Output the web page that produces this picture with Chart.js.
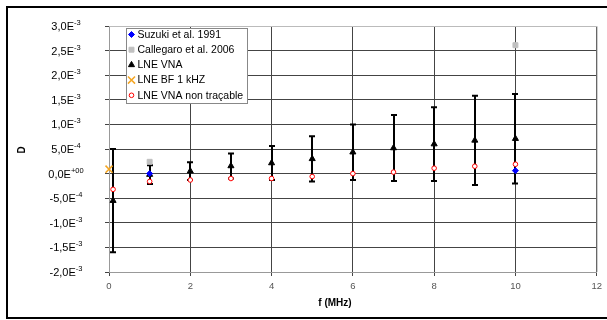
<!DOCTYPE html>
<html>
<head>
<meta charset="utf-8">
<script src="https://cdn.jsdelivr.net/npm/chart.js@4/dist/chart.umd.min.js"></script>
<style>
  body { margin: 0; background: #fff; }
</style>
</head>
<body>
<canvas id="chart" width="607" height="320"></canvas>
<script>
// frequencies (MHz) and loss factor D
const freqVNA = [0.1, 1, 2, 3, 4, 5, 6, 7, 8, 9, 10]
const dVNA = [-5.5e-4, -0.2e-4, 0.5e-4, 1.55e-4, 2.15e-4, 3.0e-4, 4.35e-4, 5.2e-4, 6.0e-4, 6.75e-4, 7.1e-4]
const errVNA = [1.05e-3, 1.9e-4, 1.8e-4, 2.55e-4, 3.45e-4, 4.6e-4, 5.65e-4, 6.7e-4, 7.5e-4, 9.05e-4, 9.1e-4]

const freqSuzuki = [1, 10]
const dSuzuki = [0, 0.6e-4]

const freqCallegaro = [1, 10]
const dCallegaro = [2.4e-4, 2.61e-3]

const freqBF = [0.001]
const dBF = [0.9e-4]

const freqNonTrac = [0.1, 1, 2, 3, 4, 5, 6, 7, 8, 9, 10]
const dNonTrac = [-3.2e-4, -1.6e-4, -1.3e-4, -1.0e-4, -1.0e-4, -0.6e-4, 0, 0.3e-4, 1.1e-4, 1.5e-4, 1.9e-4]

const xTicks = [0, 2, 4, 6, 8, 10, 12]

const pts = (xs, ys) => xs.map((x, i) => ({ x: x, y: ys[i] }))

const FONT = '"Liberation Sans", Arial, sans-serif'

function yLabel(v) {
    if (Math.abs(v) < 1e-12) return ['0,0E', '+00']
    if (Math.abs(v) >= 1e-3 - 1e-12) return [(v * 1e3).toFixed(1).replace('.', ',') + 'E', '-3']
    return [(v * 1e4).toFixed(1).replace('.', ',') + 'E', '-4']
}

const framePlugin = {
    id: 'frame',
    beforeDraw(chart) {
        const ctx = chart.ctx
        ctx.save()
        ctx.fillStyle = '#fff'
        ctx.fillRect(0, 0, chart.width, chart.height)
        ctx.strokeStyle = '#000'
        ctx.lineWidth = 2
        ctx.strokeRect(7, 7, chart.width + 10, 311)
        ctx.restore()
    },
    afterDraw(chart) {
        const ctx = chart.ctx
        const ys = chart.scales.y
        const area = chart.chartArea
        ctx.save()
        // light frame on top and right of the plot
        ctx.strokeStyle = '#bbb'
        ctx.lineWidth = 1
        ctx.beginPath()
        ctx.moveTo(area.left, area.top + 0.5)
        ctx.lineTo(area.right + 0.5, area.top + 0.5)
        ctx.lineTo(area.right + 0.5, area.bottom)
        ctx.stroke()
        // y tick labels with superscript exponents
        ctx.fillStyle = '#000'
        ctx.textBaseline = 'alphabetic'
        ys.ticks.forEach(t => {
            const [m, e] = yLabel(t.value)
            const py = ys.getPixelForValue(t.value)
            ctx.font = '11px ' + FONT
            const wm = ctx.measureText(m).width
            ctx.font = '7.5px ' + FONT
            const we = ctx.measureText(e).width
            const x0 = 66 - (wm + we) / 2
            ctx.font = '11px ' + FONT
            ctx.fillText(m, x0, py + 4)
            ctx.font = '7.5px ' + FONT
            ctx.fillText(e, x0 + wm, py - 1)
        })
        // axis titles
        ctx.font = 'bold 10px ' + FONT
        ctx.textAlign = 'center'
        ctx.fillText('f (MHz)', 335, 306)
        ctx.translate(21, 150)
        ctx.rotate(-Math.PI / 2)
        ctx.fillText('D', 0, 4)
        ctx.restore()

        // legend box inside the plot
        const items = chart.data.datasets
        ctx.save()
        ctx.fillStyle = '#fff'
        ctx.fillRect(126, 28, 121, 75)
        ctx.strokeStyle = '#888'
        ctx.lineWidth = 1
        ctx.strokeRect(126.5, 28.5, 121, 75)
        ctx.font = '10.5px ' + FONT
        ctx.textBaseline = 'middle'
        ctx.textAlign = 'left'
        items.forEach((ds, i) => {
            const y = 34.5 + i * 15.2
            const opts = {
                pointStyle: ds.pointStyle,
                radius: ds.pointRadius,
                rotation: ds.pointRotation || 0,
                borderWidth: ds.borderWidth
            }
            ctx.fillStyle = ds.backgroundColor
            ctx.strokeStyle = ds.borderColor
            ctx.lineWidth = ds.borderWidth
            Chart.helpers.drawPoint(ctx, opts, 131.5, y)
            ctx.fillStyle = '#000'
            ctx.fillText(ds.label, 137.5, y + 0.5)
        })
        ctx.restore()
    }
}

const errorBarPlugin = {
    id: 'errorBars',
    beforeDatasetsDraw(chart) {
        const ctx = chart.ctx
        const xs = chart.scales.x
        const ys = chart.scales.y
        ctx.save()
        ctx.strokeStyle = '#000'
        ctx.lineWidth = 2
        freqVNA.forEach((f, i) => {
            const px = Math.round(xs.getPixelForValue(f))
            const top = ys.getPixelForValue(dVNA[i] + errVNA[i])
            const bot = ys.getPixelForValue(dVNA[i] - errVNA[i])
            ctx.beginPath()
            ctx.moveTo(px, top)
            ctx.lineTo(px, bot)
            ctx.moveTo(px - 3, top)
            ctx.lineTo(px + 3, top)
            ctx.moveTo(px - 3, bot)
            ctx.lineTo(px + 3, bot)
            ctx.stroke()
        })
        ctx.restore()
    }
}

new Chart(document.getElementById('chart'), {
    type: 'scatter',
    data: {
        datasets: [
            {
                label: 'Suzuki et al. 1991',
                data: pts(freqSuzuki, dSuzuki),
                pointStyle: 'rectRot',
                pointRadius: 3,
                backgroundColor: '#0000ff',
                borderColor: '#0000ff',
                borderWidth: 1,
                clip: false
            },
            {
                label: 'Callegaro et al. 2006',
                data: pts(freqCallegaro, dCallegaro),
                pointStyle: 'rect',
                pointRadius: 3.5,
                backgroundColor: '#c0c0c0',
                borderColor: '#c0c0c0',
                borderWidth: 1,
                clip: false
            },
            {
                label: 'LNE VNA',
                data: pts(freqVNA, dVNA),
                pointStyle: 'triangle',
                pointRadius: 3.5,
                backgroundColor: '#000',
                borderColor: '#000',
                borderWidth: 1,
                clip: false
            },
            {
                label: 'LNE BF 1 kHZ',
                data: pts(freqBF, dBF),
                pointStyle: 'crossRot',
                pointRadius: 5,
                backgroundColor: '#f5a623',
                borderColor: '#f5a623',
                borderWidth: 1.5,
                clip: false
            },
            {
                label: 'LNE VNA non traçable',
                data: pts(freqNonTrac, dNonTrac),
                pointStyle: 'circle',
                pointRadius: 2.3,
                backgroundColor: '#fff',
                borderColor: '#ff0000',
                borderWidth: 1,
                clip: false
            }
        ]
    },
    options: {
        responsive: false,
        animation: false,
        events: [],
        layout: { padding: { top: 26, right: 8, left: 0, bottom: 0 } },
        plugins: {
            legend: { display: false },
            tooltip: { enabled: false }
        },
        scales: {
            x: {
                type: 'linear',
                min: 0,
                max: 12,
                afterBuildTicks: s => { s.ticks = xTicks.map(v => ({ value: v })) },
                afterFit: s => { s.height = 48 },
                grid: { color: '#444', tickLength: 4, drawOnChartArea: true },
                border: { color: '#999' },
                ticks: {
                    padding: 5,
                    color: '#555',
                    font: { family: FONT, size: 9.5 },
                    maxRotation: 0
                }
            },
            y: {
                min: -2e-3,
                max: 3e-3,
                ticks: { stepSize: 5e-4, display: false },
                afterFit: s => { s.width = 109 },
                grid: { color: '#444', tickLength: 4 },
                border: { color: '#999' }
            }
        }
    },
    plugins: [framePlugin, errorBarPlugin]
})
</script>
</body>
</html>
